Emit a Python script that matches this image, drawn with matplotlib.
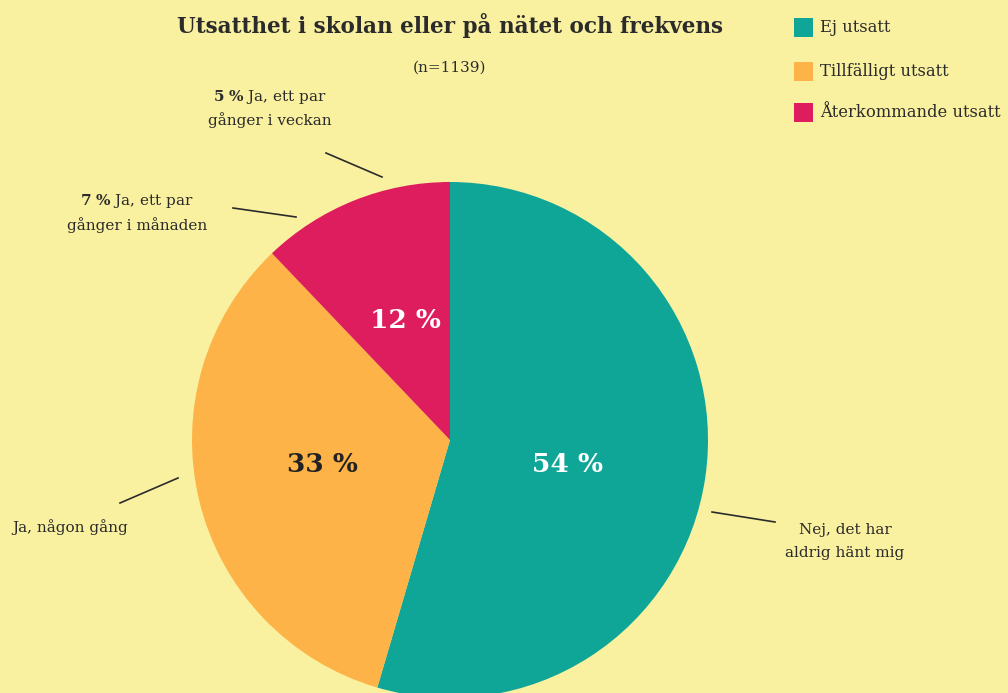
import matplotlib.pyplot as plt
from matplotlib.patches import Rectangle

plt.rcParams['font.family'] = ['DejaVu Serif']
plt.rcParams['mathtext.fontset'] = 'dejavuserif'

# data
shares = [54, 33, 12]
colors = ['#10a697', '#fdb347', '#de1d5e']
legend_labels = ['Ej utsatt', 'Tillfälligt utsatt', 'Återkommande utsatt']
pct_labels = ['54 %', '33 %', '12 %']
pct_colors = ['white', '#222222', 'white']

BG = '#faf1a0'
INK = '#2b2b2b'

W, H = 1008, 693
fig = plt.figure(figsize=(W / 100, H / 100), dpi=100, facecolor=BG)
ax = fig.add_axes([0, 0, 1, 1])
ax.set_facecolor(BG)

# pie drawn in pixel-like coordinates (y flipped, so counterclock=True gives clockwise on screen)
cx, cy, r = 450, 440, 258
wedges, _ = ax.pie(shares, colors=colors, startangle=-90, counterclock=True,
                   center=(cx, cy), radius=r, frame=True,
                   wedgeprops=dict(linewidth=0))
ax.set_xlim(0, W)
ax.set_ylim(H, 0)
ax.set_aspect('equal')
ax.axis('off')

pct_pos = [(567, 465), (322, 465), (405, 321)]
for (x, y), t, c in zip(pct_pos, pct_labels, pct_colors):
    ax.text(x, y, t, ha='center', va='center', fontsize=19, fontweight='bold', color=c)

# title
ax.text(450, 25, 'Utsatthet i skolan eller på nätet och frekvens', ha='center', va='center',
        fontsize=15.5, fontweight='bold', color=INK)
ax.text(450, 68, '(n=1139)', ha='center', va='center', fontsize=11, color=INK)

# legend
for y, lab, c in zip([27, 71.5, 112.5], legend_labels, colors):
    ax.add_patch(Rectangle((794, y - 9.5), 19, 19, color=c, lw=0))
    ax.text(820, y, lab, ha='left', va='center', fontsize=11.8, color=INK)

# leader lines
lines = [((326, 153), (382, 177)), ((233, 208), (296, 217)),
         ((120, 503), (178, 478)), ((712, 512), (775, 522))]
for (x0, y0), (x1, y1) in lines:
    ax.plot([x0, x1], [y0, y1], color=INK, lw=1.2)

# outside labels
ax.text(270, 97, r'$\bf{5\ \%}$ Ja, ett par', ha='center', va='center', fontsize=11, color=INK)
ax.text(270, 120, 'gånger i veckan', ha='center', va='center', fontsize=11, color=INK)
ax.text(137, 201, r'$\bf{7\ \%}$ Ja, ett par', ha='center', va='center', fontsize=11, color=INK)
ax.text(137, 225, 'gånger i månaden', ha='center', va='center', fontsize=11, color=INK)
ax.text(70, 527, 'Ja, någon gång', ha='center', va='center', fontsize=11, color=INK)
ax.text(845, 530, 'Nej, det har', ha='center', va='center', fontsize=11, color=INK)
ax.text(845, 553, 'aldrig hänt mig', ha='center', va='center', fontsize=11, color=INK)

fig.savefig('out.png', dpi=100, facecolor=BG)
